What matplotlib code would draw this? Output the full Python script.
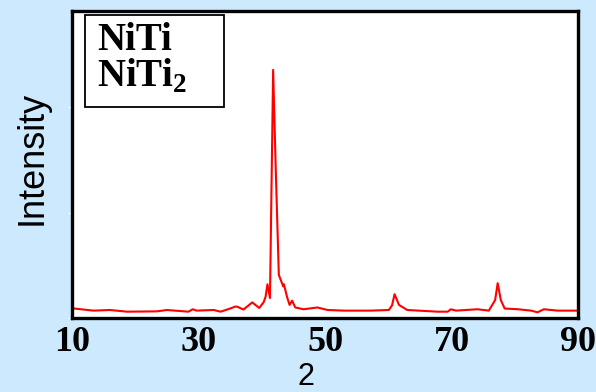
# XRD pattern of NiTi
import numpy as np
import matplotlib.pyplot as plt
from matplotlib.patches import Rectangle

plt.rcParams['mathtext.fontset'] = 'custom'
plt.rcParams['mathtext.bf'] = 'Liberation Serif:bold'
plt.rcParams['mathtext.rm'] = 'Liberation Serif:bold'

# Data
two_theta = [10.0, 13.4, 16.0, 18.7, 23.4, 25.0, 28.4, 29.1, 29.7, 32.4, 33.5, 35.0, 35.8, 36.1,
             37.1, 38.5, 39.6, 40.3, 40.6, 40.9, 41.3, 41.8, 42.2, 42.7, 43.2, 43.4, 43.5, 44.0,
             44.4, 44.8, 45.3, 46.6, 48.8, 50.4, 53.0, 57.2, 60.1, 60.6, 61.0, 61.7, 63.0, 67.8,
             69.4, 69.9, 70.7, 74.1, 75.9, 76.9, 77.3, 77.8, 78.4, 80.5, 82.6, 83.6, 84.6, 86.8, 90.0]
intensity = [92, 70, 76, 60, 63, 76, 60, 83, 70, 76, 60, 90, 108, 108,
             80, 148, 95, 150, 200, 320, 190, 2355, 1440, 410, 330, 300, 320, 200,
             124, 165, 100, 83, 100, 76, 70, 70, 76, 120, 226, 124, 76, 60,
             60, 83, 70, 83, 70, 170, 330, 170, 90, 83, 70, 54, 83, 70, 70]
x_ticks = [10, 30, 50, 70, 90]
legend_labels = ["NiTi", r"NiTi$_\mathbf{2}$"]

bg = "#cce9fd"
fig = plt.figure(figsize=(5.96, 3.92), dpi=100, facecolor=bg)
ax = fig.add_axes([72/596, 1 - 318/392, 506/596, 307/392])
ax.set_facecolor("white")

ax.plot(two_theta, intensity, color="red", linewidth=1.5)

ax.set_xlim(10, 90)
ax.set_ylim(0, 2914)
ax.set_xticks(x_ticks)
ax.set_xticklabels([str(t) for t in x_ticks], fontfamily="Liberation Serif",
                   fontweight="bold", fontsize=26)
ax.tick_params(axis="x", length=0, pad=6)
ax.set_yticks([0, 1000, 2000])
ax.set_yticklabels([])
ax.tick_params(axis="y", length=3, width=1, color="white", direction="out")

for s in ax.spines.values():
    s.set_linewidth(2.4)
    s.set_color("black")

ax.set_ylabel("Intensity", fontfamily="Liberation Sans", fontsize=26)
ax.yaxis.set_label_coords(-0.045, 0.52)
fig.text(306/596, 1 - 377/392, "2", fontfamily="Liberation Sans", fontsize=22,
         ha="center", va="center")

# Legend box
ax.add_patch(Rectangle((13/506, 1 - 96/307), 139/506, 92/307, transform=ax.transAxes,
                       facecolor="white", edgecolor="black", linewidth=1.3))
ax.text(25/506, 1 - 76/307, "\n".join(legend_labels), transform=ax.transAxes,
        fontfamily="Liberation Serif", fontweight="bold", fontsize=28,
        va="baseline", linespacing=0.95)

fig.savefig("out.png", dpi=100, facecolor=bg)
